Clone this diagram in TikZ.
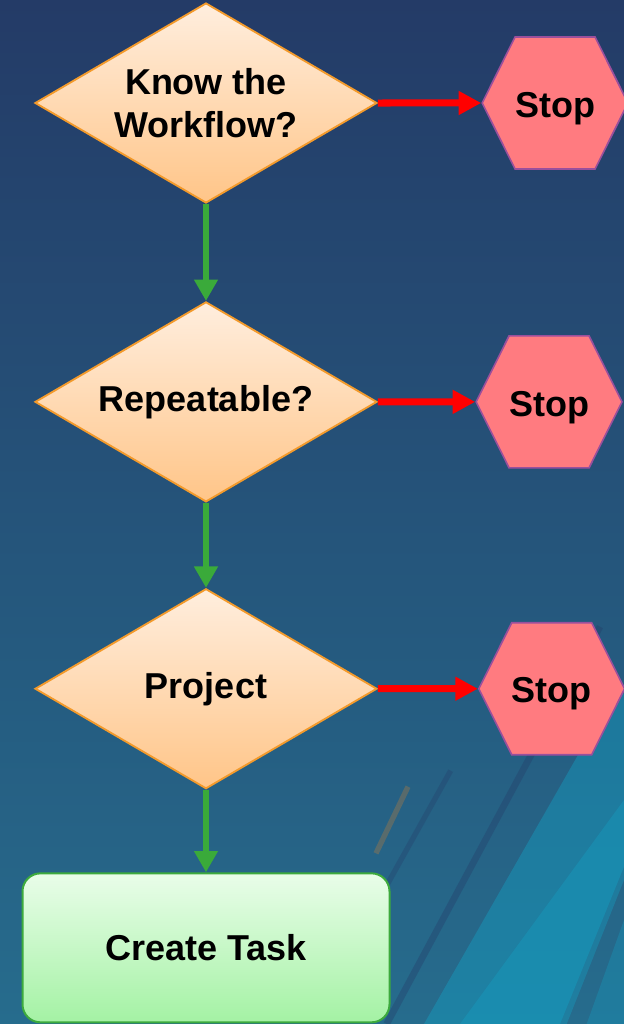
\documentclass[tikz,border=0pt]{standalone}
\usepackage{fontspec}
\setmainfont{Liberation Sans}
\usepackage{tikz}
\definecolor{bgtop}{HTML}{243B67}
\definecolor{bgbottom}{HTML}{266C8D}
\definecolor{bandcyan}{HTML}{13A3C6}
\definecolor{peachtop}{HTML}{FFEEDE}
\definecolor{peachbottom}{HTML}{FFC588}
\definecolor{peachline}{HTML}{F39A2B}
\definecolor{stopred}{HTML}{FF7B80}
\definecolor{stopline}{HTML}{9A4F9C}
\definecolor{mintop}{HTML}{E9FDE9}
\definecolor{minbottom}{HTML}{A4F2A4}
\definecolor{minline}{HTML}{3DAA3D}
\definecolor{yesgreen}{HTML}{3AAA3A}
\usetikzlibrary{arrows.meta, positioning, shapes.geometric, shapes.symbols}
\tikzstyle{decision} = [diamond, draw=peachline, line width=1.4pt, top color=peachtop,
    bottom color=peachbottom, shape aspect=1.7, inner sep=0pt, align=center,
    minimum width=256.5pt, minimum height=150pt]
\tikzstyle{stopper} = [signal, signal to=east and west, signal pointer angle=127,
    draw=stopline, line width=1.2pt, fill=stopred, inner sep=0pt,
    text height=27pt, text depth=5.7pt, minimum width=105.75pt, minimum height=99pt]
\tikzstyle{block} = [draw=minline, line width=1.5pt, top color=mintop, bottom color=minbottom,
    rectangle, rounded corners=13.5pt, minimum height=111.75pt, minimum width=275.25pt]
\tikzstyle{yes} = [-{Triangle[length=16pt, width=17pt]}, yesgreen, line width=5pt]
\tikzstyle{no} = [-{Triangle[length=17pt, width=17pt]}, red, line width=5.25pt]

\begin{document}
\begin{tikzpicture}
    \fontsize{27pt}{32.4pt}\selectfont\bfseries

    % Background
    \useasboundingbox (0,0) rectangle (468pt,-768pt);
    \shade [top color=bgtop, bottom color=bgbottom] (0,0) rectangle (468pt,-768pt);
    \fill [bandcyan, opacity=0.4] (460pt,-520pt) -- (468pt,-520pt) -- (468pt,-650pt)
        -- (420pt,-768pt) -- (318pt,-768pt) -- cycle;
    \fill [bandcyan, opacity=0.35] (468pt,-600pt) -- (468pt,-660pt) -- (425pt,-768pt)
        -- (345pt,-768pt) -- cycle;
    \fill [bandcyan, opacity=0.3] (468pt,-690pt) -- (468pt,-768pt) -- (440pt,-768pt) -- cycle;
    \draw [bgtop, opacity=0.35, line width=5pt] (450pt,-470pt) -- (290pt,-768pt);
    \draw [bgtop, opacity=0.3, line width=4pt] (338pt,-578pt) -- (270pt,-700pt);
    \draw [orange!60!gray, opacity=0.3, line width=4pt] (306pt,-590pt) -- (282pt,-640pt);

    % Place the blocks
    \node [decision] (workflow) at (154.5pt,-77.25pt) {Know the\\Workflow?};
    \node [decision, below=72.75pt of workflow] (repeat) {Repeatable?};
    \node [decision, below=63.75pt of repeat] (project) {Project};
    \node [block, below=62pt of project] (task) {Create Task};
    \node [stopper, right=77.5pt of workflow] (stopA) {Stop};
    \node [stopper, right=73pt of repeat] (stopB) {Stop};
    \node [stopper, right=75pt of project] (stopC) {Stop};

    % Connect the nodes
    \draw [yes] (workflow) -- (repeat);
    \draw [yes] (repeat) -- (project);
    \draw [yes] (project) -- (task);
    \draw [no] (workflow) -- (stopA);
    \draw [no] (repeat) -- (stopB);
    \draw [no] (project) -- (stopC);
\end{tikzpicture}
\end{document}
